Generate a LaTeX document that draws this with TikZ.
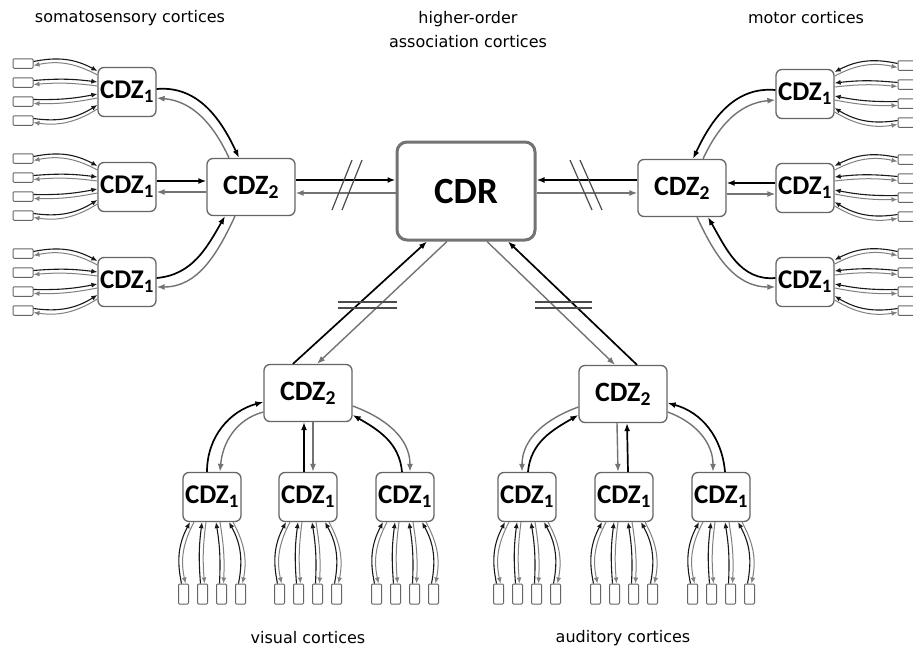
\documentclass[tikz,border=0pt]{standalone}
\usepackage{fontspec}
\setmainfont{Carlito}
\newfontfamily\labfont{DejaVu Sans}
\usetikzlibrary{arrows.meta}
\tikzset{
  box/.style={draw=black!60, line width=1.3pt, rounded corners=6pt, fill=white, inner sep=0pt,
    font=\bfseries\fontsize{27}{27}\selectfont},
  cdzone/.style={box, minimum width=58pt, minimum height=49pt},
  cdztwo/.style={box, minimum width=88pt, minimum height=57pt, font=\bfseries\fontsize{28}{28}\selectfont},
  cdrbox/.style={box, draw=black!55, line width=3pt, rounded corners=10pt, minimum width=138pt, minimum height=98pt,
    font=\bfseries\fontsize{37}{37}\selectfont},
  sbh/.style={draw=black!60, line width=1pt, rounded corners=1pt, minimum width=20pt, minimum height=9.5pt, inner sep=0pt},
  sbv/.style={draw=black!60, line width=1pt, rounded corners=1pt, minimum width=10pt, minimum height=20pt, inner sep=0pt},
  ff/.style={draw=black, line width=1.7pt, -{Latex[length=8pt,width=6pt]}},
  fb/.style={draw=black!55, line width=1.4pt, -{Latex[length=8pt,width=6pt]}},
  ffs/.style={draw=black!90, line width=1.1pt, -{Latex[length=6pt,width=5pt]}},
  fbs/.style={draw=black!50, line width=1.0pt, -{Latex[length=6pt,width=5pt]}},
  brk/.style={draw=black!70, line width=1.2pt},
  lab/.style={font=\labfont\fontsize{16}{24}\selectfont, inner sep=0pt}
}
\begin{document}
\begin{tikzpicture}[x=1pt,y=1pt]
\useasboundingbox (0,0) rectangle (913,-653);
\clip (0,0) rectangle (913,-653);
\fill[white] (0,0) rectangle (913,-653);

% labels
\node[lab] (tsom) at (130,-18) {somatosensory cortices};
\node[lab, align=center] (thigh) at (468,-30) {higher-order\\association cortices};
\node[lab] (tmot) at (806,-18) {motor cortices};
\node[lab] (tvis) at (308,-638) {visual cortices};
\node[lab] (taud) at (623,-638) {auditory cortices};

% main nodes
\node[cdrbox] (R) at (466,-191) {CDR};
\node[cdztwo] (L) at (251,-187) {CDZ\textsubscript{2}};
\node[cdztwo] (M) at (682,-188) {CDZ\textsubscript{2}};
\node[cdztwo] (V) at (308,-393) {CDZ\textsubscript{2}};
\node[cdztwo] (A) at (623,-394) {CDZ\textsubscript{2}};
\node[cdzone] (L1) at (127,-92) {CDZ\textsubscript{1}};
\node[cdzone] (L2) at (127,-187) {CDZ\textsubscript{1}};
\node[cdzone] (L3) at (127,-282) {CDZ\textsubscript{1}};
\node[cdzone] (M1) at (805,-94) {CDZ\textsubscript{1}};
\node[cdzone] (M2) at (805,-188) {CDZ\textsubscript{1}};
\node[cdzone] (M3) at (805,-282) {CDZ\textsubscript{1}};
\node[cdzone] (V1) at (212,-497) {CDZ\textsubscript{1}};
\node[cdzone] (V2) at (308,-497) {CDZ\textsubscript{1}};
\node[cdzone] (V3) at (405,-497) {CDZ\textsubscript{1}};
\node[cdzone] (A1) at (527,-497) {CDZ\textsubscript{1}};
\node[cdzone] (A2) at (624,-497) {CDZ\textsubscript{1}};
\node[cdzone] (A3) at (721,-497) {CDZ\textsubscript{1}};

% small boxes, left
\foreach \g/\cy in {L1/92,L2/187,L3/282}{
  \foreach \o/\a/\b [count=\i] in {-28.5/-19/20,-9.5/-8/6,9.5/4/-6,28.5/15/-20}{
    \node[sbh] (\g s\i) at (23,{-(\cy+\o)}) {};
    \draw[ffs] ([yshift=2pt]\g s\i.east) to[bend left=\b] ([yshift={2-(\a)}]\g.west);
    \draw[fbs] ([yshift={-2-(\a)}]\g.west) to[bend right=\b] ([yshift=-2pt]\g s\i.east);
  }
}
% small boxes, right
\foreach \g/\cy in {M1/94,M2/188,M3/282}{
  \foreach \o/\a/\b [count=\i] in {-28.5/-20/20,-9.5/-9/6,9.5/4/-6,28.5/16/-20}{
    \node[sbh] (\g s\i) at (908,{-(\cy+\o)}) {};
    \draw[ffs] ([yshift=2pt]\g s\i.west) to[bend right=\b] ([yshift={2-(\a)}]\g.east);
    \draw[fbs] ([yshift={-2-(\a)}]\g.east) to[bend left=\b] ([yshift=-2pt]\g s\i.west);
  }
}
% small boxes, bottom
\foreach \g/\cx in {V1/212,V2/308,V3/405,A1/527,A2/624,A3/721}{
  \foreach \o/\a/\b [count=\i] in {-28.5/-20/20,-9.5/-8/6,9.5/6/-6,28.5/19/-20}{
    \node[sbv] (\g s\i) at ({\cx+\o},-594) {};
    \draw[ffs] ([xshift=-2pt]\g s\i.north) to[bend left=\b] ([xshift={\a-2}]\g.south);
    \draw[fbs] ([xshift={\a+2}]\g.south) to[bend right=\b] ([xshift=2pt]\g s\i.north);
  }
}

% left CDZ1 - CDZ2
\draw[ff] ([yshift=3pt]L1.east) to[out=5,in=115] ([xshift=-12pt]L.north);
\draw[fb] ([xshift=-22pt]L.north) to[out=115,in=-5] ([yshift=-6pt]L1.east);
\draw[ff] ([yshift=6pt]L2.east) -- ([yshift=6pt]L.west);
\draw[fb] ([yshift=-5pt]L.west) -- ([yshift=-5pt]L2.east);
\draw[ff] ([yshift=4pt]L3.east) to[out=5,in=-120] ([xshift=-26pt]L.south);
\draw[fb] ([xshift=-16pt]L.south) to[out=-115,in=0] ([yshift=-5pt]L3.east);

% right CDZ1 - CDZ2
\draw[ff] ([yshift=4pt]M1.west) to[out=175,in=65] ([xshift=11pt]M.north);
\draw[fb] ([xshift=21pt]M.north) to[out=65,in=185] ([yshift=-6pt]M1.west);
\draw[ff] ([yshift=5pt]M2.west) -- ([yshift=5pt]M.east);
\draw[fb] ([yshift=-6pt]M.east) -- ([yshift=-6pt]M2.west);
\draw[ff] ([yshift=4pt]M3.west) to[out=185,in=-60] ([xshift=26pt]M.south);
\draw[fb] ([xshift=15pt]M.south) to[out=-65,in=180] ([yshift=-5pt]M3.west);

% visual CDZ1 - CDZ2
\draw[ff] ([xshift=-5pt]V1.north) to[out=90,in=195] ([yshift=-9pt]V.west);
\draw[fb] ([yshift=-19pt]V.west) to[out=195,in=85] ([xshift=8pt]V1.north);
\draw[ff] ([xshift=-4pt]V2.north) -- ([xshift=-4pt]V.south);
\draw[fb] ([xshift=5pt]V.south) -- ([xshift=5pt]V2.north);
\draw[ff] ([xshift=-3pt]V3.north) to[out=95,in=-30] ([yshift=-22pt]V.east);
\draw[fb] ([yshift=-13pt]V.east) to[out=-20,in=90] ([xshift=5pt]V3.north);

% auditory CDZ1 - CDZ2
\draw[fb] ([yshift=-13pt]A.west) to[out=200,in=90] ([xshift=-5pt]A1.north);
\draw[ff] ([xshift=1pt]A1.north) to[out=85,in=210] ([yshift=-21pt]A.west);
\draw[fb] ([xshift=-6pt]A.south) -- ([xshift=-6pt]A2.north);
\draw[ff] ([xshift=4pt]A2.north) -- ([xshift=4pt]A.south);
\draw[fb] ([yshift=-18pt]A.east) to[out=-20,in=90] ([xshift=-8pt]A3.north);
\draw[ff] ([xshift=4pt]A3.north) to[out=95,in=-15] ([yshift=-9pt]A.east);

% CDZ2 - CDR
\draw[ff] ([yshift=7pt]L.east) -- ([yshift=11pt]R.west);
\draw[fb] ([yshift=-2pt]R.west) -- ([yshift=-6pt]L.east);
\draw[ff] ([yshift=8pt]M.west) -- ([yshift=11pt]R.east);
\draw[fb] ([yshift=-2pt]R.east) -- ([yshift=-5pt]M.west);
\draw[ff] ([xshift=-15pt]V.north) -- ([xshift=-39pt]R.south);
\draw[fb] ([xshift=-19pt]R.south) -- ([xshift=9pt]V.north);
\draw[ff] ([xshift=14pt]A.north) -- ([xshift=42pt]R.south);
\draw[fb] ([xshift=21pt]R.south) -- ([xshift=-8pt]A.north);

% break marks
\draw[brk] (332,-210) -- (352,-160);
\draw[brk] (342,-210) -- (362,-160);
\draw[brk] (570,-160) -- (592,-210);
\draw[brk] (580,-160) -- (602,-210);
\draw[brk] (338,-302) -- (397,-302);
\draw[brk] (338,-308) -- (397,-308);
\draw[brk] (535,-302) -- (592,-302);
\draw[brk] (535,-308) -- (592,-308);
\end{tikzpicture}
\end{document}
